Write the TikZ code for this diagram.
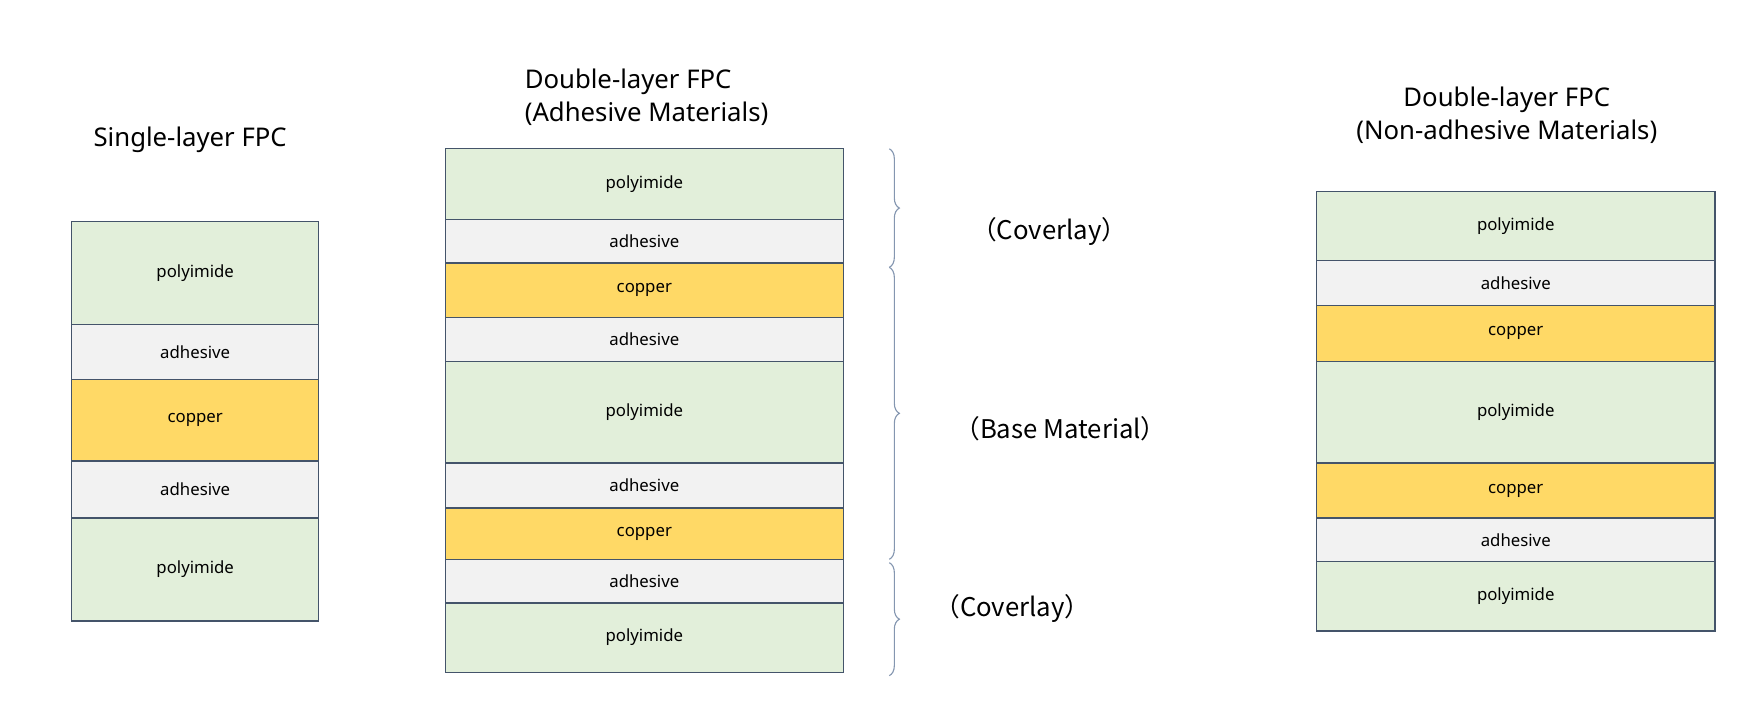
\documentclass[tikz,border=0pt]{standalone}
\usepackage{fontspec}
\setmainfont{Noto Sans}
\newfontfamily\cjk{Noto Sans CJK SC}
\usetikzlibrary{decorations.pathreplacing}
\definecolor{pi}{HTML}{E2EFDA}
\definecolor{ad}{HTML}{F2F2F2}
\definecolor{cu}{HTML}{FFD966}
\definecolor{bd}{HTML}{44546A}
\definecolor{br}{HTML}{8496B0}
\tikzset{lay/.style={draw=bd,line width=1.2pt,font=\fontsize{15}{18}\selectfont},
 brc/.style={draw=br,line width=1pt,decorate,decoration={brace,amplitude=9pt}},
 ttl/.style={font=\fontsize{23}{29}\selectfont,align=center},
 lbl/.style={font=\cjk\fontsize{23}{28}\selectfont}}
\newcommand{\lay}[6]{\path[lay,fill=#5] (#1,#3) rectangle (#2,#4); \node[font=\fontsize{15}{18}\selectfont] (#6) at ({(#1+#2)/2},{(#3+#4)/2}) {\csname lt#5\endcsname};}
\newcommand{\ltpi}{polyimide}
\newcommand{\ltad}{adhesive}
\newcommand{\ltcu}{copper}
\begin{document}
\begin{tikzpicture}[x=1pt,y=-1pt]
\useasboundingbox (0,0) rectangle (1568,640);
% column 1
\lay{64}{285}{198}{290}{pi}{a1}
\lay{64}{285}{290}{339}{ad}{a2}
\lay{64}{285}{339}{412}{cu}{a3}
\lay{64}{285}{412}{463}{ad}{a4}
\lay{64}{285}{463}{555}{pi}{a5}
\node[ttl] (t1) at (170,125) {Single-layer FPC};
% column 2
\lay{398}{754}{133}{196}{pi}{b1}
\lay{398}{754}{196}{235}{ad}{b2}
\lay{398}{754}{235}{284}{cu}{b3}
\lay{398}{754}{284}{323}{ad}{b4}
\lay{398}{754}{323}{414}{pi}{b5}
\lay{398}{754}{414}{454}{ad}{b6}
\lay{398}{754}{454}{500}{cu}{b7}
\lay{398}{754}{500}{539}{ad}{b8}
\lay{398}{754}{539}{601}{pi}{b9}
\node[ttl,align=left] (t2) at (578,87) {Double-layer FPC\\(Adhesive Materials)};
% column 3
\lay{1177}{1533}{171}{233}{pi}{c1}
\lay{1177}{1533}{233}{273}{ad}{c2}
\lay{1177}{1533}{273}{323}{cu}{c3}
\lay{1177}{1533}{323}{414}{pi}{c4}
\lay{1177}{1533}{414}{463}{cu}{c5}
\lay{1177}{1533}{463}{502}{ad}{c6}
\lay{1177}{1533}{502}{564}{pi}{c7}
\node[ttl] (t3) at (1347,103) {Double-layer FPC\\(Non-adhesive Materials)};
% braces
\coordinate (k1) at (795,133); \coordinate (k2) at (795,239);
\coordinate (k3) at (795,500); \coordinate (k4) at (795,503);
\coordinate (k5) at (795,604);
\draw[brc] (k1) -- (k2);
\draw[brc] (k2) -- (k3);
\draw[brc] (k4) -- (k5);
\node[lbl] (l1) at (938,207) {（Coverlay）};
\node[lbl] (l2) at (948,383) {（Base Material）};
\node[lbl] (l3) at (905,544) {（Coverlay）};
\end{tikzpicture}
\end{document}
